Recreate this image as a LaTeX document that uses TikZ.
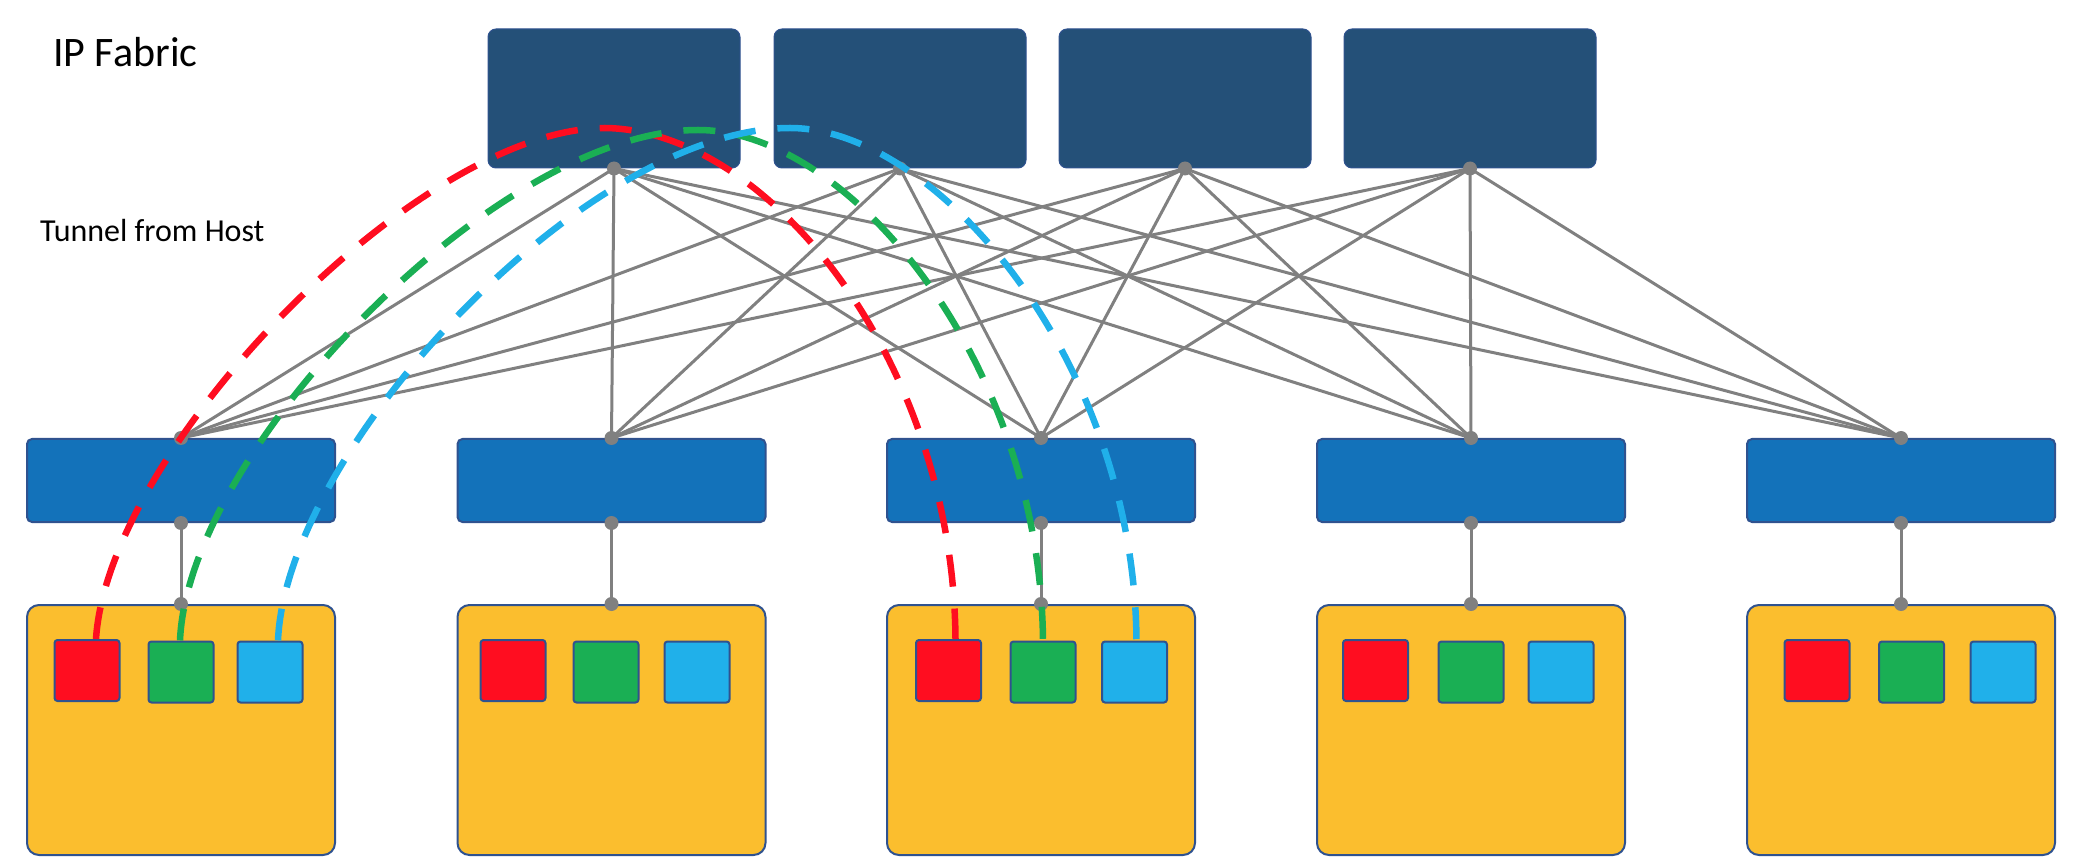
\documentclass[tikz,border=0pt]{standalone}
\usepackage{fontspec}
\setmainfont{Carlito}
\definecolor{spinec}{HTML}{245078}
\definecolor{leafc}{HTML}{1372BA}
\definecolor{hostc}{HTML}{FBBE2E}
\definecolor{edgec}{HTML}{2F528F}
\definecolor{vmred}{HTML}{FF0D20}
\definecolor{vmgreen}{HTML}{1AAF54}
\definecolor{vmblue}{HTML}{20B0EA}
\definecolor{linkc}{HTML}{808080}
\tikzset{
 spinebox/.style={draw=edgec, line width=1pt, fill=spinec, rounded corners=8pt, minimum width=252pt, minimum height=139pt, inner sep=0pt},
 leafbox/.style={draw=edgec, line width=2pt, fill=leafc, rounded corners=5pt, minimum width=308pt, minimum height=83pt, inner sep=0pt},
 hostbox/.style={draw=edgec, line width=2pt, fill=hostc, rounded corners=12pt, minimum width=308pt, minimum height=250pt, inner sep=0pt},
 vm/.style={draw=edgec, line width=2pt, rounded corners=3pt, minimum width=65pt, minimum height=61pt, inner sep=0pt},
 link/.style={draw=linkc, line width=3pt},
 tunnel/.style={line width=6.5pt, dash pattern=on 32pt off 22pt},
 port/.style={fill=linkc}
}
\begin{document}
\begin{tikzpicture}[x=1pt,y=-1pt]
\useasboundingbox (0,0) rectangle (2078,866);
% labels
\node[anchor=base west, inner sep=0pt, font=\fontsize{42}{50}\selectfont] (title) at (53,67) {IP Fabric};
\node[anchor=base west, inner sep=0pt, font=\fontsize{32}{38}\selectfont] (tunlabel) at (40,242) {Tunnel from Host};
% spines
\foreach \i/\x in {1/614,2/900,3/1185,4/1470}
  \node[spinebox] (s\i) at (\x,98.5) {};
% leaves and hosts
\foreach \i/\x in {1/181,2/611.5,3/1041,4/1471,5/1901}{
  \node[leafbox] (l\i) at (\x,480.5) {};
  \node[hostbox] (h\i) at (\x,730) {};
}
% VMs
\foreach \i/\r/\g/\b in {1/87/181/270,2/513/606/697,3/948.5/1043/1134.5,4/1375.5/1471/1561,5/1817/1911.5/2003}{
  \node[vm, fill=vmred] (h\i r) at (\r,670.5) {};
  \node[vm, fill=vmgreen] (h\i g) at (\g,672) {};
  \node[vm, fill=vmblue] (h\i b) at (\b,672) {};
}
% links
\foreach \i in {1,...,4}
  \foreach \j in {1,...,5}
    \draw[link] (s\i.south) -- (l\j.north);
\foreach \j in {1,...,5}{
  \draw[link] (l\j.south) -- (h\j.north);
  \fill[port] (l\j.north) circle (7);
  \fill[port] (l\j.south) circle (7);
  \fill[port] (h\j.north) circle (7);
}
\foreach \i in {1,...,4}
  \fill[port] (s\i.south) circle (7);
% tunnels
\coordinate (rpk) at (605,128);
\coordinate (gpk) at (698,130);
\coordinate (bpk) at (790,128);
\draw[tunnel, vmred] ([xshift=9pt]h1r.north) .. controls (108,450) and (418,128) .. (rpk) .. controls (768,130) and (953,360) .. ([xshift=7pt]h3r.north);
\draw[tunnel, vmgreen] ([xshift=-1pt]h1g.north) .. controls (188,450) and (498,130) .. (gpk) .. controls (848,130) and (1040,360) .. (h3g.north);
\draw[tunnel, vmblue] ([xshift=8pt]h1b.north) .. controls (286,450) and (586,128) .. (bpk) .. controls (936,128) and (1134,360) .. ([xshift=2pt]h3b.north);
\end{tikzpicture}
\end{document}
